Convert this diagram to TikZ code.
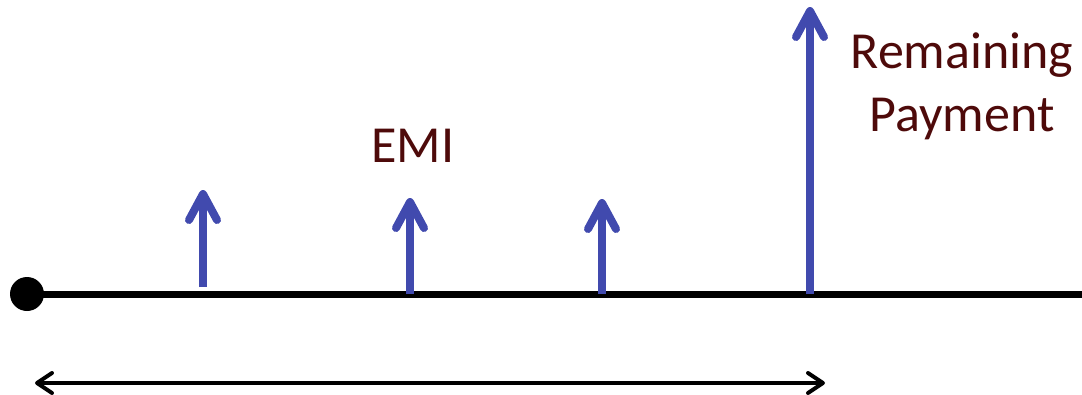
\documentclass[tikz,border=0pt]{standalone}
\usepackage{fontspec}
\setmainfont{Carlito}
\usetikzlibrary{arrows.meta}
\definecolor{flowblue}{RGB}{65,74,174}
\definecolor{labelred}{RGB}{78,10,10}
\begin{document}
\begin{tikzpicture}[x=1pt,y=-1pt,
  axis/.style={line width=7pt,black},
  flow/.style={line width=8pt,flowblue,line cap=butt,
    -{Straight Barb[length=26pt,width=28pt,line cap=round,line join=round]}},
  span/.style={line width=4pt,black,
    {Straight Barb[length=15pt,width=20pt,line cap=round,line join=round]}-{Straight Barb[length=15pt,width=20pt,line cap=round,line join=round]}},
  lbl/.style={text=labelred,font=\fontsize{52}{63}\selectfont,inner sep=0pt,align=center}]
\useasboundingbox (0,0) rectangle (1082,394);
% time axis
\coordinate (start) at (27,294);
\coordinate (end) at (1082,294);
\draw[axis] (start) -- (end);
\fill (start) circle[radius=17pt];
% cash-flow arrows
\coordinate (b1) at (203,287); \coordinate (t1) at (203,190);
\coordinate (b2) at (410,294); \coordinate (t2) at (410,198);
\coordinate (b3) at (602,294); \coordinate (t3) at (602,199);
\coordinate (b4) at (810,294); \coordinate (t4) at (810,7);
\draw[flow] (b1) -- (t1);
\draw[flow] (b2) -- (t2);
\draw[flow] (b3) -- (t3);
\draw[flow] (b4) -- (t4);
% labels
\node[lbl,anchor=base] (emi) at (413,162) {EMI};
\node[lbl,anchor=base] (rem) at (962,131) {Remaining\\Payment};
% span arrow
\coordinate (s1) at (35,383);
\coordinate (s2) at (825,383);
\draw[span] (s1) -- (s2);
\end{tikzpicture}
\end{document}
